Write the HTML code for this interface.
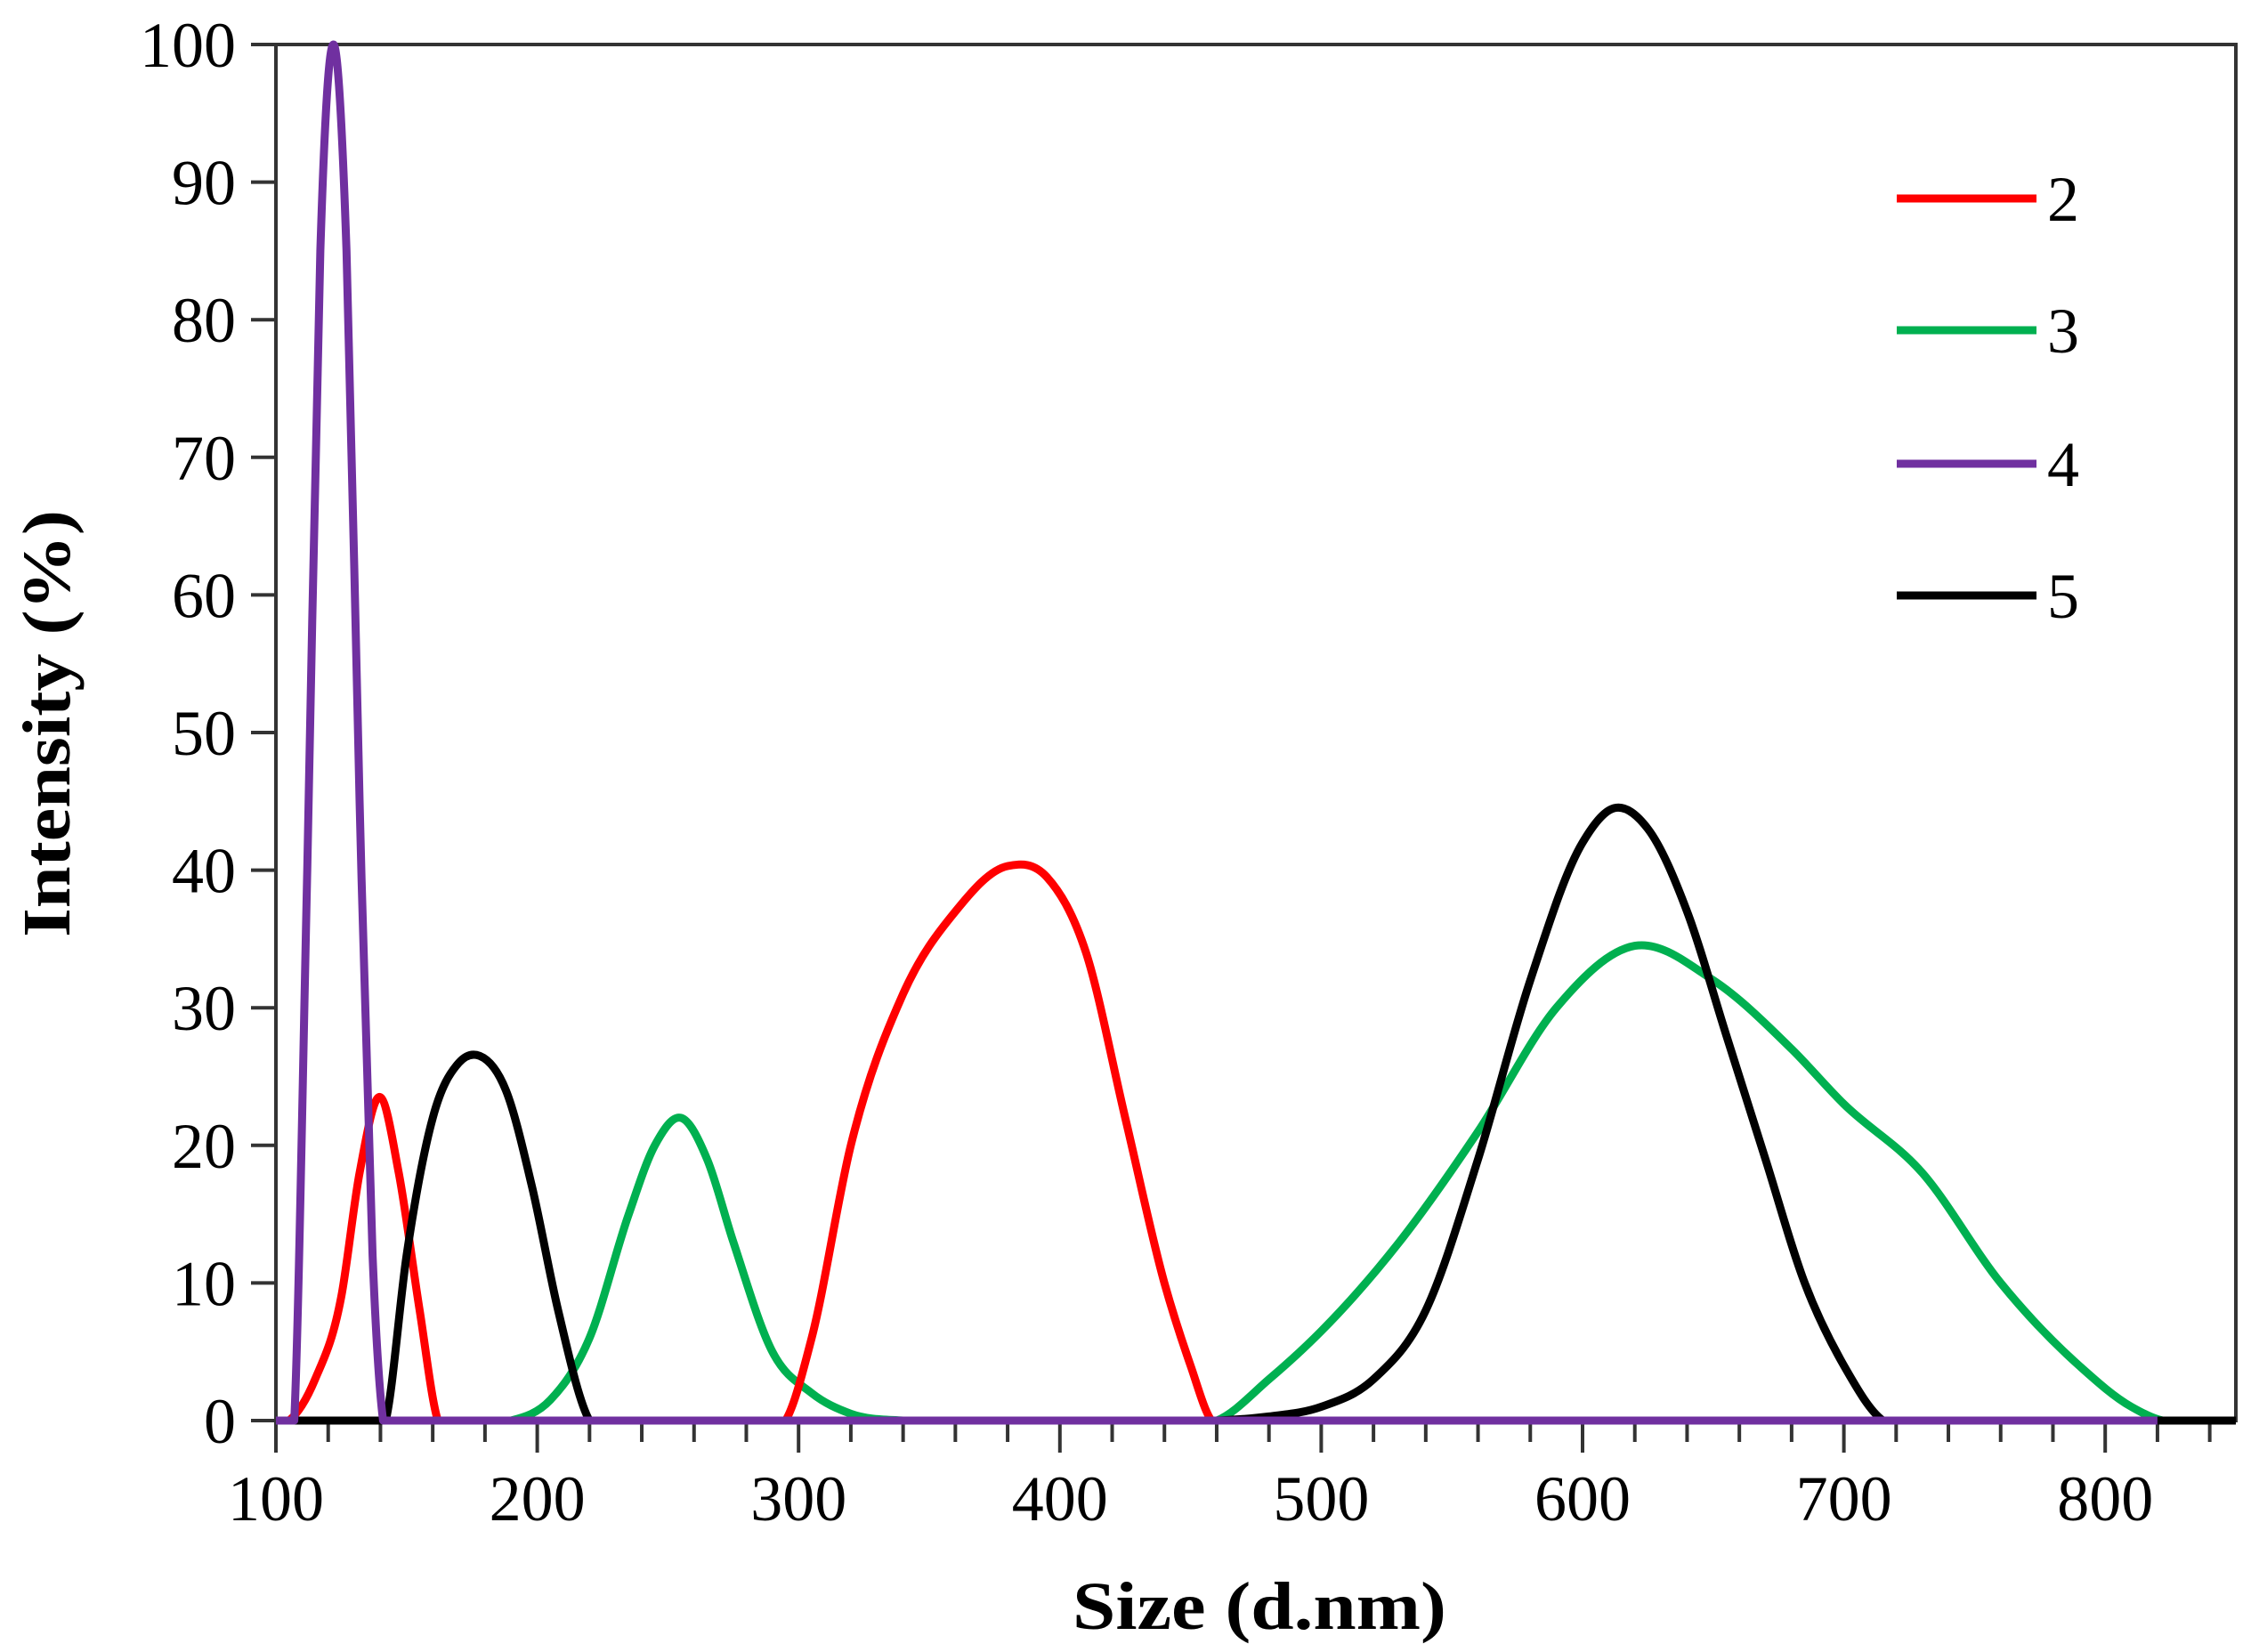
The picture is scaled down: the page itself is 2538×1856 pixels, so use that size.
<!DOCTYPE html>
<html><head><meta charset="utf-8"><style>
html,body{margin:0;padding:0;background:#fff;}
svg{display:block;font-family:"Liberation Serif",serif;}
</style></head><body>
<svg id="chart" width="2538" height="1856" viewBox="0 0 2538 1856" xmlns="http://www.w3.org/2000/svg">
<g id="grid"></g>
<g id="series"></g>
<text x="1415" y="1830" font-size="76" font-weight="bold" text-anchor="middle" textLength="420" lengthAdjust="spacingAndGlyphs">Size (d.nm)</text>
<text transform="translate(78,813) rotate(-90)" font-size="76" font-weight="bold" text-anchor="middle" textLength="480" lengthAdjust="spacingAndGlyphs">Intensity (%)</text>
<g id="legend"></g>
</svg>
<script>
const xTicks=[100,200,300,400,500,600,700,800];
const yTicks=[0,10,20,30,40,50,60,70,80,90,100];
const seriesNames=["2","3","4","5"];
const seriesColors=["#ff0000","#00b050","#7030a0","#000000"];
const s2x=[100,105,115,125,132,140,147,155,162,295,305,320,340,360,380,395,410,425,440,450,458,850];
const s2y=[0,0,3,9,18,23.5,18,8,0,0,6,20,31,37,40.3,39.5,34,22,10,4,0,0];
const s3x=[100,190,205,220,235,245,255,265,275,290,305,320,340,460,480,500,530,560,590,620,650,680,700,730,760,790,810,822,850];
const s3y=[0,0,1.5,6,15,20,22,19,13,5,2,0.5,0,0,3,6.5,13,21,30,34.5,32,27,23,18,10,4,1,0,0];
const s4x=[100,107,112,117,122,127,132,137,141,820];
const s4y=[0,0,40,85,100,85,45,12,0,0];
const s5x=[100,142,150,160,170,178,188,198,208,220,460,480,500,520,540,560,580,600,612,625,640,655,670,685,700,715,850];
const s5y=[0,0,12,22,26,26.5,24,17,8,0,0,0.3,1,3,8,19,32,42,44.5,43,37,28,19,10,4,0,0];
const XS=[s2x,s3x,s4x,s5x], YS=[s2y,s3y,s4y,s5y];
const L=310,R=2512,T=50,B=1596;
const xs=v=>L+(v-100)*(R-L)/750;
const ys=v=>B-v*(B-T)/100;
const NS="http://www.w3.org/2000/svg";
function mk(tag,attrs,parent){const e=document.createElementNS(NS,tag);for(const k in attrs)e.setAttribute(k,attrs[k]);parent.appendChild(e);return e;}
const grid=document.getElementById('grid');
const fr=mk('rect',{x:L,y:T,width:R-L,height:B-T,fill:'none',stroke:'#333',"stroke-width":4},grid);


for(const t of yTicks){
  const ln=mk('line',{x1:L-28,x2:L,y1:ys(t),y2:ys(t),stroke:'#333',"stroke-width":4},grid);
  
  
  const tx=mk('text',{x:L-45,y:ys(t)+25,"font-size":72,"text-anchor":"end"},grid);
  tx.textContent=t;
  
  
}
for(let v=100;v<=840;v+=20){
  const major=(v%100===0);
  const ln=mk('line',{x1:xs(v),x2:xs(v),y1:B,y2:B+(major?36:24),stroke:'#333',"stroke-width":4},grid);
  
  
}
for(const t of xTicks){
  const tx=mk('text',{x:xs(t),y:1708,"font-size":72,"text-anchor":"middle"},grid);
  tx.textContent=t;
  
  
}
function smooth(x,y){
  const n=x.length,m=[];
  for(let i=0;i<n;i++){
    if(i===0||i===n-1){m[i]=0;continue;}
    const a=(y[i]-y[i-1])/(x[i]-x[i-1]),b=(y[i+1]-y[i])/(x[i+1]-x[i]);
    if(y[i]===0){m[i]=0;continue;}
    // weighted average of neighbor slopes (non-uniform Catmull-Rom)
    const h0=x[i]-x[i-1],h1=x[i+1]-x[i];
    m[i]=(a*h1+b*h0)/(h0+h1);
  }
  let p='M'+xs(x[0]).toFixed(1)+','+ys(y[0]).toFixed(1);
  for(let i=0;i<n-1;i++){
    if(y[i]===0&&y[i+1]===0){p+=' L'+xs(x[i+1]).toFixed(1)+','+ys(y[i+1]).toFixed(1);continue;}
    const h=x[i+1]-x[i];
    let m0=m[i],m1=m[i+1];
    if(y[i]===0)m0=(y[i+1]-y[i])/h*0.5;
    if(y[i+1]===0)m1=(y[i+1]-y[i])/h*0.5;
    const c1y=Math.max(0,y[i]+m0*h/3),c2y=Math.max(0,y[i+1]-m1*h/3);
    p+=' C'+xs(x[i]+h/3).toFixed(1)+','+ys(c1y).toFixed(1)+' '+xs(x[i+1]-h/3).toFixed(1)+','+ys(c2y).toFixed(1)+' '+xs(x[i+1]).toFixed(1)+','+ys(y[i+1]).toFixed(1);
  }
  return p;
}
const sg=document.getElementById('series');
[1,0,3,2].forEach(i=>{
  const p=mk('path',{d:smooth(XS[i],YS[i]),fill:'none',stroke:seriesColors[i],"stroke-width":9,"stroke-linejoin":"round"},sg);
  
  
});
const lg=document.getElementById('legend');
const ly=[223,371,521,669];
seriesNames.forEach((n,i)=>{
  const ln=mk('line',{x1:2131,x2:2288,y1:ly[i],y2:ly[i],stroke:seriesColors[i],"stroke-width":9},lg);
  
  
  const tx=mk('text',{x:2300,y:ly[i]+25,"font-size":72},lg);
  tx.textContent=n;
  
  
});
</script>
</body></html>
